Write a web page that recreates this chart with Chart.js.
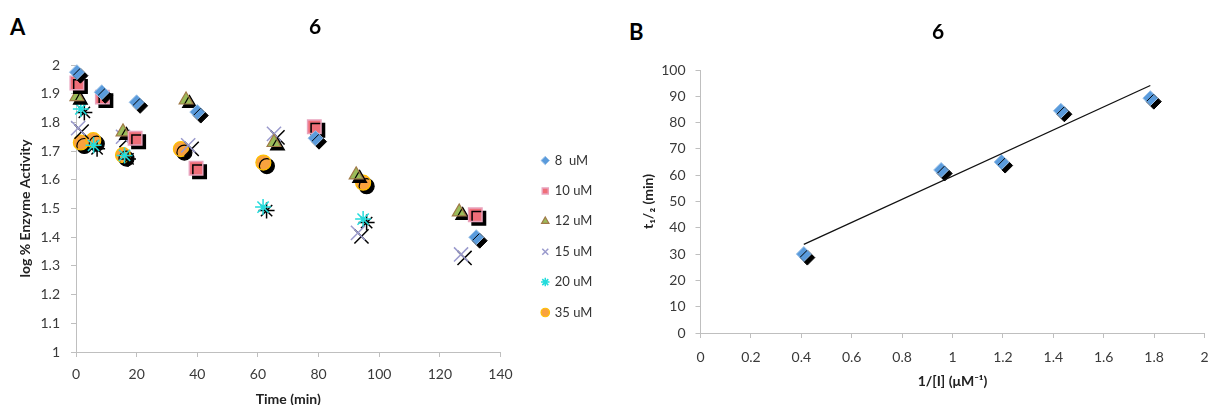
<!DOCTYPE html>
<html>
<head>
<meta charset="utf-8">
<script src="https://cdn.jsdelivr.net/npm/chart.js@4.4.0/dist/chart.umd.min.js"></script>
<style>
  body { margin: 0; background: #fff; overflow: hidden; width: 1209px; height: 405px; position: relative; font-family: Lato, sans-serif; }
  .panel { position: absolute; top: 0; }
  .tag { position: absolute; font: bold 22px Lato, sans-serif; line-height: 22px; color: #000; }
</style>
</head>
<body>
<div class="tag" style="left:10px;top:16px;">A</div>
<div class="tag" style="left:629px;top:21px;">B</div>
<div class="panel" style="left:0;"><canvas id="chartA" width="630" height="405"></canvas></div>
<div class="panel" style="left:610px;"><canvas id="chartB" width="656" height="405"></canvas></div>
<script>
// --- panel A: log % activity vs time, one series per inhibitor conc.
const seriesNames = ['8  uM', '10 uM', '12 uM', '15 uM', '20 uM', '35 uM'];
const t8 = [0.3, 8.5, 20, 40, 79, 132];
const v8 = [1.975, 1.905, 1.87, 1.836, 1.745, 1.40];
const t10 = [0.3, 8.7, 19.5, 39.6, 78.6, 131.7];
const v10 = [1.937, 1.888, 1.745, 1.64, 1.785, 1.478];
const t12 = [0.3, 15.5, 36.3, 65.3, 92.4, 126.4];
const v12 = [1.89, 1.767, 1.878, 1.73, 1.617, 1.488];
const t15 = [0.7, 15.5, 37, 65.3, 93, 127];
const v15 = [1.78, 1.75, 1.72, 1.76, 1.415, 1.34];
const t20 = [1.6, 5.8, 16, 61.7, 94.7];
const v20 = [1.847, 1.72, 1.685, 1.505, 1.463];
const t35 = [1.6, 5.7, 15.5, 34.6, 61.8, 94.7];
const v35 = [1.73, 1.738, 1.686, 1.707, 1.66, 1.59];
const aXTicks = [0, 20, 40, 60, 80, 100, 120, 140];
const aYTicks = [1, 1.1, 1.2, 1.3, 1.4, 1.5, 1.6, 1.7, 1.8, 1.9, 2];

// --- panel B: half-life vs 1/[I]
const bX = [0.41, 0.955, 1.195, 1.43, 1.785];
const bY = [30, 62, 65, 84.5, 89.3];
const trendX = [0.41, 1.785];
const trendY = [33.7, 94.1];
const bXTicks = [0, 0.2, 0.4, 0.6, 0.8, 1, 1.2, 1.4, 1.6, 1.8, 2];
const bYTicks = [0, 10, 20, 30, 40, 50, 60, 70, 80, 90, 100];

const FONT = 'Lato, sans-serif';
const TICK_COL = '#3a3a3a';
const AXIS_COL = '#BFBFBF';

const pts = (xs, ys) => xs.map((x, i) => ({ x, y: ys[i] }));

// black drop shadow under the markers, like the Excel 3D effect
const markShadow = {
  id: 'markShadow',
  beforeDatasetDraw(chart, args) {
    if (!chart.data.datasets[args.index].shadow) return;
    const c = chart.ctx;
    c.save();
    c.shadowColor = '#000';
    c.shadowOffsetX = 3.5;
    c.shadowOffsetY = 3.5;
    c.shadowBlur = 0;
  },
  afterDatasetDraw(chart, args) {
    if (chart.data.datasets[args.index].shadow) chart.ctx.restore();
  }
};

function axis(ticksArr, extra) {
  return Object.assign({
    type: 'linear',
    min: ticksArr[0],
    max: ticksArr[ticksArr.length - 1],
    afterBuildTicks: s => { s.ticks = ticksArr.map(v => ({ value: v })); },
    grid: { display: true, drawOnChartArea: false, drawTicks: true, tickLength: 5, color: AXIS_COL },
    border: { display: true, color: AXIS_COL },
  }, extra);
}

// invisible box used only to hold space in the layout
function spacer(pos, w, weight) {
  return {
    position: pos, display: true, weight,
    grid: { display: false }, border: { display: false }, ticks: { display: false },
    afterFit: s => { s.width = w; }
  };
}

function tickOpts(pad) {
  return { color: TICK_COL, font: { family: FONT, size: 14 }, callback: v => String(v), autoSkip: false, maxRotation: 0, padding: pad };
}

function titleOpts(text, pad) {
  return { display: true, text, color: '#222', font: { family: FONT, size: 14, weight: 'bold' }, padding: pad };
}

function series(label, xs, ys, style, fill, stroke, r, bw) {
  return {
    label, data: pts(xs, ys), shadow: true, clip: false,
    pointStyle: style, pointRadius: r, pointHoverRadius: r,
    backgroundColor: fill, borderColor: stroke, pointBorderWidth: bw, borderWidth: bw,
    showLine: false
  };
}

new Chart(document.getElementById('chartA'), {
  type: 'scatter',
  data: {
    datasets: [
      series(seriesNames[0], t8, v8, 'rectRot', '#5A9BDC', '#9CC2E8', 7.5, 1),
      series(seriesNames[1], t10, v10, 'rect', '#F06E78', '#E9A3BD', 9.5, 1.5),
      series(seriesNames[2], t12, v12, 'triangle', '#9BBB59', '#A07A48', 8, 1.2),
      series(seriesNames[3], t15, v15, 'crossRot', '#9A9ACD', '#9A9ACD', 10, 1.5),
      series(seriesNames[4], t20, v20, 'star', '#22DCDC', '#22DCDC', 8, 1.5),
      series(seriesNames[5], t35, v35, 'circle', '#F9A23E', '#FFC000', 7.5, 1.2),
    ]
  },
  options: {
    responsive: false,
    animation: false,
    layout: { padding: 0 },
    scales: {
      x: axis(aXTicks, {
        afterFit: s => { s.height = 53; },
        ticks: tickOpts(9),
        title: titleOpts('Time (min)', { top: 0, bottom: -3 })
      }),
      y: axis(aYTicks, {
        afterFit: s => { s.width = 76; },
        ticks: tickOpts(11),
        title: titleOpts('log % Enzyme Activity', { top: 16.6, bottom: 0 })
      }),
      gapIn: spacer('right', 24.4, 0),
      gapOut: spacer('right', 27.6, 2000)
    },
    plugins: {
      title: { display: true, text: '6', color: '#000', font: { family: FONT, size: 21, weight: 'bold' }, padding: { top: 14.4, bottom: 25.4 } },
      legend: {
        position: 'right', align: 'start', fullSize: false,
        title: { display: true, text: '', font: { size: 13 }, padding: { top: 56, bottom: 0 } },
        labels: { usePointStyle: true, boxWidth: 6, boxHeight: 6, padding: 17.4, color: '#333', font: { family: FONT, size: 13 } }
      },
      tooltip: { enabled: false }
    }
  },
  plugins: [markShadow]
});

new Chart(document.getElementById('chartB'), {
  type: 'scatter',
  data: {
    datasets: [
      {
        label: 'fit', type: 'line', data: pts(trendX, trendY), borderColor: '#111', borderWidth: 1.3,
        pointRadius: 0, fill: false, clip: false
      },
      series('t1/2', bX, bY, 'rectRot', '#5A9BDC', '#9CC2E8', 7.5, 1)
    ]
  },
  options: {
    responsive: false,
    animation: false,
    layout: { padding: 0 },
    scales: {
      x: axis(bXTicks, {
        afterFit: s => { s.height = 72; },
        ticks: tickOpts(11),
        title: titleOpts('1/[I] (\u03BCM\u207B\u00B9)', { top: 0, bottom: 15.6 })
      }),
      y: axis(bYTicks, {
        afterFit: s => { s.width = 90.5; },
        ticks: tickOpts(10),
        title: titleOpts('t\u2081/\u2082 (min)', { top: 29.6, bottom: 0 })
      }),
      gapR: spacer('right', 61.5, 0)
    },
    plugins: {
      title: { display: true, text: '6', color: '#000', font: { family: FONT, size: 21, weight: 'bold' }, padding: { top: 19.4, bottom: 25.4 } },
      legend: { display: false },
      tooltip: { enabled: false }
    }
  },
  plugins: [markShadow]
});
</script>
</body>
</html>
